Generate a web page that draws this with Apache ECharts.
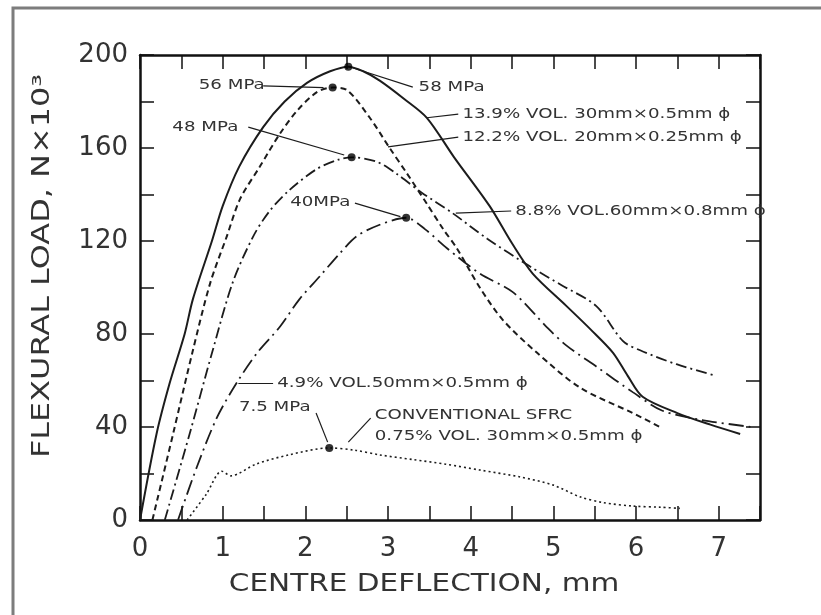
<!DOCTYPE html>
<html>
<head>
<meta charset="utf-8">
<script src="https://cdn.jsdelivr.net/npm/echarts/dist/echarts.min.js"></script>
<style>
  html, body { margin: 0; padding: 0; background: #fff; }
  #chart { width: 821px; height: 615px; }
</style>
</head>
<body>
<div id="chart"></div>
<script>
// Load–deflection curves of fibre-reinforced slurry specimens (deflection in mm, load in kN)
const vol139X = [0, 0.2, 0.36, 0.54, 0.64, 0.87, 1.0, 1.2, 1.49, 1.75, 2.02, 2.3, 2.52, 2.7, 2.9, 3.2, 3.47, 3.8, 4.23, 4.5, 4.75, 5.16, 5.45, 5.72, 5.9, 6.08, 6.5, 6.9, 7.26];
const vol139Y = [0, 37, 59, 80, 95, 120, 135, 152, 169, 180, 188, 193, 195, 193, 189, 181, 173, 156, 135, 119, 106, 92, 82, 72, 62, 53, 46, 41, 37];

const vol122X = [0.15, 0.4, 0.64, 0.85, 1.05, 1.21, 1.45, 1.69, 1.9, 2.14, 2.33, 2.5, 2.78, 3.02, 3.23, 3.47, 3.67, 3.83, 4.11, 4.39, 4.8, 5.32, 5.96, 6.29];
const vol122Y = [0, 37, 73, 102, 122, 138, 152, 166, 176, 184, 186, 185, 173, 160, 149, 136, 125, 117, 100, 86, 72, 57, 46, 40];

const vol88X = [0.3, 0.6, 0.88, 1.12, 1.37, 1.57, 1.81, 2.14, 2.4, 2.56, 2.87, 3.1, 3.4, 3.78, 4.2, 4.72, 5.1, 5.52, 5.84, 6.05, 6.49, 6.97];
const vol88Y = [0, 37, 73, 102, 122, 133, 142, 151, 155, 156, 154, 149, 141, 132, 121, 109, 101, 92, 77, 73, 67, 62];

const vol49X = [0.46, 0.69, 0.93, 1.17, 1.42, 1.69, 1.93, 2.18, 2.4, 2.62, 2.9, 3.22, 3.45, 3.71, 4.11, 4.51, 4.92, 5.16, 5.52, 5.96, 6.32, 6.8, 7.4];
const vol49Y = [0, 23, 44, 59, 72, 83, 95, 105, 114, 122, 127, 130, 125, 117, 106, 98, 83, 75, 66, 55, 47, 43, 40];

const sfrcX = [0.57, 0.8, 0.99, 1.1, 1.4, 1.8, 2.29, 2.6, 2.9, 3.3, 3.7, 4.11, 4.6, 5.0, 5.32, 5.6, 5.96, 6.3, 6.53];
const sfrcY = [0, 11, 21, 19, 24, 28, 31, 30, 28, 26, 24, 21.5, 18.5, 15, 10, 7.5, 6, 5.5, 5];

// Axis tick values
const xTicks = [0, 1, 2, 3, 4, 5, 6, 7];
const yTicks = [0, 40, 80, 120, 160, 200];

// Labels with leader arrows, placed in data units
const notes = [
  { text: '56 MPa', at: [1.11, 187], align: 'center', from: [1.49, 186.7], to: [2.22, 186], bend: 0 },
  { text: '58 MPa', at: [3.37, 186.2], align: 'left', from: [3.3, 186.2], to: [2.57, 194.5], bend: -0.1 },
  { text: '13.9% VOL. 30mm×0.5mm ϕ', at: [3.9, 174.6], align: 'left', from: [3.85, 174.6], to: [3.47, 173], bend: 0 },
  { text: '12.2% VOL. 20mm×0.25mm ϕ', at: [3.9, 164.7], align: 'left', from: [3.85, 164.7], to: [3.0, 160.5], bend: 0.15 },
  { text: '48 MPa', at: [0.79, 169], align: 'center', from: [1.31, 169], to: [2.47, 157], bend: -0.15 },
  { text: '40MPa', at: [2.18, 136.8], align: 'center', from: [2.6, 136.3], to: [3.15, 130.5], bend: 0 },
  { text: '8.8% VOL.60mm×0.8mm ϕ', at: [4.54, 132.9], align: 'left', from: [4.49, 132.9], to: [3.82, 132], bend: 0 },
  { text: '4.9% VOL.50mm×0.5mm ϕ', at: [1.66, 58.9], align: 'left', from: [1.61, 58.9], to: [1.19, 59], bend: 0.25 },
  { text: '7.5 MPa', at: [1.63, 48.5], align: 'center', from: [2.13, 46], to: [2.27, 33.5], bend: -0.3 },
  { text: 'CONVENTIONAL SFRC', at: [2.84, 45.2], align: 'left', from: [2.79, 43.8], to: [2.52, 33.5], bend: 0.3 },
  { text: '0.75% VOL. 30mm×0.5mm ϕ', at: [2.84, 36.1], align: 'left' }
];

const ink = '#1c1c1c';
const textInk = '#333';
const FONT = 'DejaVu Sans';

function pairs(xs, ys) { return xs.map((x, i) => [x, ys[i]]); }
function peakOf(xs, ys) {
  let k = 0;
  ys.forEach((v, i) => { if (v > ys[k]) k = i; });
  return [xs[k], ys[k]];
}

const curves = [
  { name: '13.9% VOL', x: vol139X, y: vol139Y, type: 'solid', width: 2 },
  { name: '12.2% VOL', x: vol122X, y: vol122Y, type: [6, 4], width: 2 },
  { name: '8.8% VOL', x: vol88X, y: vol88Y, type: [11, 4, 2, 4], width: 1.8 },
  { name: '4.9% VOL', x: vol49X, y: vol49Y, type: [15, 5, 2, 5], width: 1.8 },
  { name: 'Conventional SFRC', x: sfrcX, y: sfrcY, type: [2, 3], width: 1.6 }
];

const chart = echarts.init(document.getElementById('chart'), null, { renderer: 'canvas' });

const series = curves.map(c => ({
  name: c.name,
  type: 'line',
  data: pairs(c.x, c.y),
  showSymbol: false,
  smooth: 0.3,
  lineStyle: { color: ink, width: c.width, type: c.type },
  silent: true,
  z: 3
}));

// Leader arrows
series.push({
  name: 'leaders',
  type: 'line',
  data: [],
  silent: true,
  markLine: {
    silent: true,
    animation: false,
    symbol: ['none', 'arrow'],
    symbolSize: [0, 9],
    label: { show: false },
    lineStyle: { color: ink, width: 1.2, type: 'solid' },
    data: notes.filter(n => n.from).map(n => [
      { coord: n.from, lineStyle: { curveness: n.bend, color: ink, width: 1.2, type: 'solid' } },
      { coord: n.to }
    ])
  }
});

// Peak markers
series.push({
  name: 'peaks',
  type: 'scatter',
  data: curves.map(c => peakOf(c.x, c.y)),
  symbolSize: 8,
  itemStyle: { color: '#000' },
  silent: true,
  z: 5
});

const axisLine = { show: true, onZero: false, lineStyle: { color: '#111', width: 2.5 } };
const tick = { show: true, inside: true, length: 14, lineStyle: { color: '#111', width: 1.5 } };
const tickLabel = { fontSize: 26, fontFamily: FONT, fontWeight: 'normal', color: textInk };

chart.setOption({
  animation: false,
  backgroundColor: '#fff',
  grid: { left: 140, right: 61, top: 55, bottom: 95, containLabel: false },
  xAxis: [
    {
      type: 'value', min: 0, max: 7.5, interval: 0.5, position: 'bottom',
      axisLine, axisTick: tick, splitLine: { show: false },
      axisLabel: Object.assign({ margin: 16, formatter: v => (xTicks.includes(v) ? String(v) : '') }, tickLabel)
    },
    {
      type: 'value', min: 0, max: 7.5, interval: 0.5, position: 'top',
      axisLine, axisTick: tick, splitLine: { show: false }, axisLabel: { show: false }
    }
  ],
  yAxis: [
    {
      type: 'value', min: 0, max: 200, interval: 20, position: 'left',
      axisLine, axisTick: tick, splitLine: { show: false },
      axisLabel: Object.assign({ margin: 12, formatter: v => (yTicks.includes(v) ? String(v) : '') }, tickLabel)
    },
    {
      type: 'value', min: 0, max: 200, interval: 20, position: 'right',
      axisLine, axisTick: tick, splitLine: { show: false }, axisLabel: { show: false }
    }
  ],
  series
});

// Texts: axis titles, annotations and the outer frame
function px(p) { return chart.convertToPixel({ xAxisIndex: 0, yAxisIndex: 0 }, p); }

const graphics = [
  {
    type: 'rect', shape: { x: 13, y: 8, width: 900, height: 700 },
    style: { fill: 'none', stroke: '#7d7d7d', lineWidth: 3 }, silent: true, z: 1
  },
  {
    type: 'text', x: 424, y: 585, scaleX: 1.23, silent: true,
    style: { text: 'CENTRE DEFLECTION, mm', fontSize: 24, fontFamily: FONT, fill: textInk, align: 'center', verticalAlign: 'middle' }
  },
  {
    type: 'text', x: 43, y: 266, rotation: Math.PI / 2, scaleX: 1.33, silent: true,
    style: { text: 'FLEXURAL LOAD, N×10³', fontSize: 24, fontFamily: FONT, fill: textInk, align: 'center', verticalAlign: 'middle' }
  }
];

notes.forEach(n => {
  const p = px(n.at);
  graphics.push({
    type: 'text', x: p[0], y: p[1], scaleX: 1.3, silent: true, z: 10,
    style: { text: n.text, fontSize: 14, fontFamily: FONT, fill: textInk, align: n.align, verticalAlign: 'middle' }
  });
});

chart.setOption({ graphic: graphics });
</script>
</body>
</html>
